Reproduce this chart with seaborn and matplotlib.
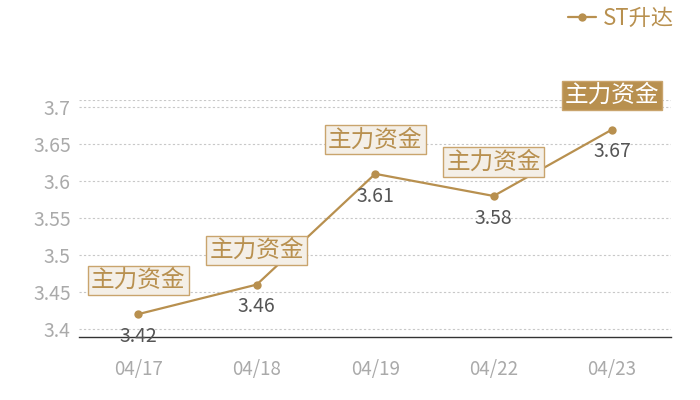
import matplotlib
matplotlib.use("Agg")
import matplotlib.pyplot as plt
import seaborn as sns
import pandas as pd

# datos
fechas = ["04/17", "04/18", "04/19", "04/22", "04/23"]
precio = [3.42, 3.46, 3.61, 3.58, 3.67]
etiqueta = ["主力资金", "主力资金", "主力资金", "主力资金", "主力资金"]
serie = "ST升达"

sns.set_style("white")
plt.rcParams['font.family'] = ['Noto Sans CJK SC', 'DejaVu Sans']

oro = "#b8904f"
df = pd.DataFrame({"fecha": fechas, "precio": precio})

fig = plt.figure(figsize=(7, 4), dpi=100)
ax = fig.add_axes([0.113, 0.1575, 0.846, 0.5925])

sns.lineplot(data=df, x="fecha", y="precio", ax=ax, color=oro, linewidth=1.6,
             marker="o", markersize=6, markeredgewidth=0, label=serie, sort=False)

ax.set_xlim(-0.5, len(fechas) - 0.5)
ax.set_ylim(3.389, 3.71)
ax.set_yticks([3.4, 3.45, 3.5, 3.55, 3.6, 3.65, 3.7])
ax.set_yticklabels(["3.4", "3.45", "3.5", "3.55", "3.6", "3.65", "3.7"])
ax.grid(axis="y", linestyle=(0, (2, 2)), color="#c8c8c8", linewidth=0.8)
ax.axhline(3.71, linestyle=(0, (2, 2)), color="#c8c8c8", linewidth=0.8, zorder=0)
ax.set_axisbelow(True)
for s in ["top", "right", "left"]:
    ax.spines[s].set_visible(False)
ax.spines["bottom"].set_color("#333333")
ax.spines["bottom"].set_linewidth(1)
ax.tick_params(axis="y", length=0, colors="#aaaaaa", labelsize=14, pad=6)
ax.tick_params(axis="x", length=0, colors="#aaaaaa", labelsize=13.5, pad=16)
ax.set_xlabel("")
ax.set_ylabel("")

# etiquetas de valor y cajas
for i, (v, t) in enumerate(zip(precio, etiqueta)):
    ax.annotate(f"{v:.2f}", (i, v), xytext=(0, -16), textcoords="offset points",
                ha="center", va="center", fontsize=14, color="#555555")
    ultimo = i == len(precio) - 1
    ax.annotate(t, (i, v), xytext=(0, 24.5), textcoords="offset points",
                ha="center", va="center", fontsize=17,
                color="white" if ultimo else oro,
                bbox=dict(boxstyle="square,pad=0.13",
                          fc=oro if ultimo else "#f4efe7",
                          ec="#c9a46d", lw=1))

leg = ax.legend(loc="upper right", bbox_to_anchor=(1.02, 1.43), frameon=False,
                fontsize=16, handlelength=1.3, handletextpad=0.3,
                borderaxespad=0)
for txt in leg.get_texts():
    txt.set_color(oro)

fig.savefig("out.png", dpi=100)
